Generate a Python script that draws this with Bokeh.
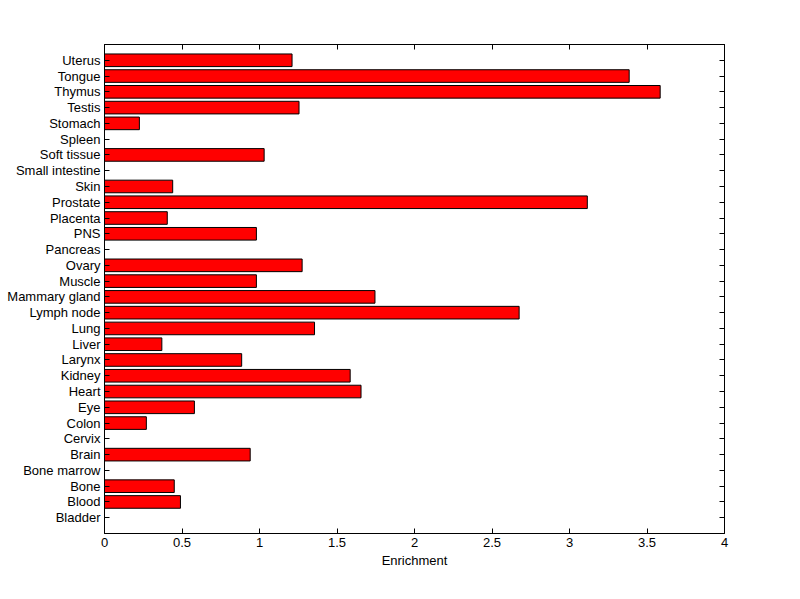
from bokeh.plotting import figure
from bokeh.models import Range1d, FixedTicker, LinearAxis
from bokeh.embed import file_html
from bokeh.resources import INLINE

tissues = ["Bladder", "Blood", "Bone", "Bone marrow", "Brain", "Cervix", "Colon", "Eye",
           "Heart", "Kidney", "Larynx", "Liver", "Lung", "Lymph node", "Mammary gland",
           "Muscle", "Ovary", "Pancreas", "PNS", "Placenta", "Prostate", "Skin",
           "Small intestine", "Soft tissue", "Spleen", "Stomach", "Testis", "Thymus",
           "Tongue", "Uterus"]
enrichment = [0.0, 0.49, 0.45, 0.0, 0.94, 0.0, 0.27, 0.58,
              1.655, 1.585, 0.885, 0.37, 1.355, 2.675, 1.745,
              0.98, 1.275, 0.0, 0.98, 0.405, 3.115, 0.44,
              0.0, 1.03, 0.0, 0.225, 1.255, 3.585,
              3.385, 1.21]
x_ticks = [0, 0.5, 1, 1.5, 2, 2.5, 3, 3.5, 4]
x_tick_labels = ["0", "0.5", "1", "1.5", "2", "2.5", "3", "3.5", "4"]

ypos = list(range(1, len(tissues) + 1))
FONT = "Liberation Sans"

p = figure(width=800, height=599, output_backend="svg", toolbar_location=None,
           x_range=Range1d(0, 4), y_range=Range1d(0, len(tissues) + 1),
           min_border_left=104, min_border_right=76, min_border_top=44, min_border_bottom=66,
           x_axis_label="Enrichment")
p.hbar(y=ypos, right=enrichment, left=0, height=0.8, fill_color="#ff0000",
       line_color="black", line_width=1)

p.xgrid.visible = False
p.ygrid.visible = False
p.outline_line_color = "black"
p.outline_line_width = 1
p.background_fill_color = "white"
p.border_fill_color = "white"

xa = p.xaxis[0]
xa.ticker = FixedTicker(ticks=x_ticks)
xa.major_label_overrides = {t: l for t, l in zip(x_ticks, x_tick_labels)}
ya = p.yaxis[0]
ya.ticker = FixedTicker(ticks=ypos)
ya.major_label_overrides = {y: t for y, t in zip(ypos, tissues)}

for ax in (xa, ya):
    ax.major_tick_in = 5
    ax.major_tick_out = 0
    ax.minor_tick_in = 0
    ax.minor_tick_out = 0
    ax.axis_line_color = "black"
    ax.major_tick_line_color = "black"
    ax.major_label_text_font = FONT
    ax.major_label_text_font_size = "13px"
    ax.major_label_text_color = "black"
    ax.major_label_standoff = 4
    ax.axis_label_text_font = FONT
    ax.axis_label_text_font_size = "13px"
    ax.axis_label_text_font_style = "normal"
    ax.axis_label_text_color = "black"
    ax.axis_label_standoff = 3

top = LinearAxis(ticker=FixedTicker(ticks=x_ticks), major_tick_in=5, major_tick_out=0,
                 minor_tick_in=0, minor_tick_out=0, major_label_standoff=0,
                 major_label_overrides={t: "" for t in x_ticks})
right = LinearAxis(ticker=FixedTicker(ticks=ypos), major_tick_in=5, major_tick_out=0,
                   minor_tick_in=0, minor_tick_out=0, major_label_standoff=0,
                   major_label_overrides={y: "" for y in ypos})
p.add_layout(top, "above")
p.add_layout(right, "right")

open("out.html", "w").write(file_html(p, INLINE))
